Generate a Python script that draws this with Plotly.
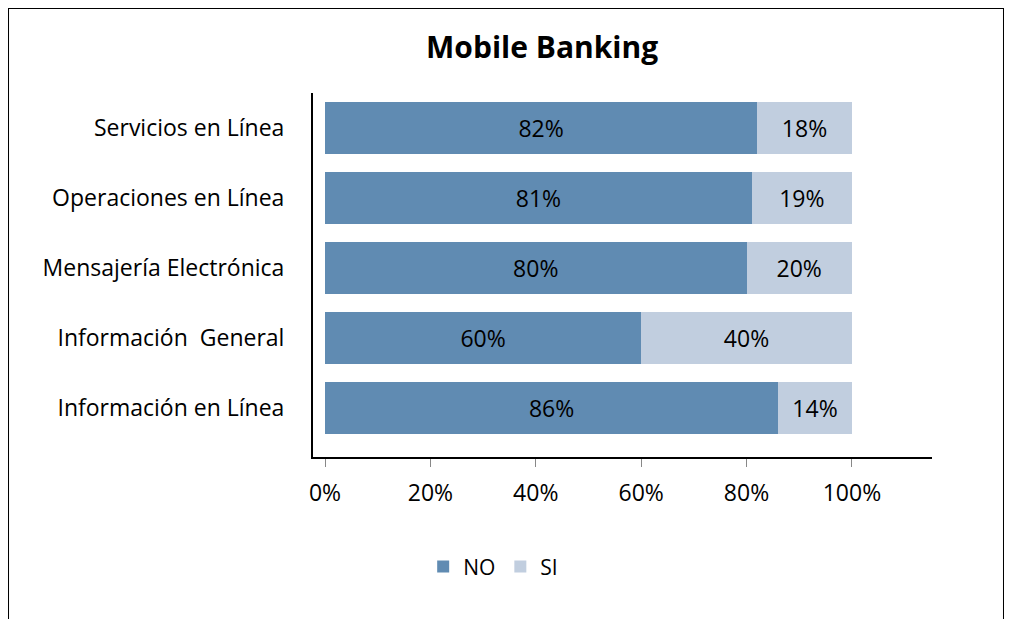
import plotly.graph_objects as go

categories = ["Información en Línea", "Información\u00a0 General", "Mensajería Electrónica",
              "Operaciones en Línea", "Servicios en Línea"]
no_values = [86, 60, 80, 81, 82]
si_values = [14, 40, 20, 19, 18]
x_ticks = [0, 20, 40, 60, 80, 100]
x_labels = ["0%", "20%", "40%", "60%", "80%", "100%"]

NO_COLOR = "#608BB2"
SI_COLOR = "#C1CEDF"
FONT = "Open Sans"

fig = go.Figure()
fig.add_trace(go.Bar(
    y=categories, x=no_values, orientation="h", name="NO",
    marker=dict(color=NO_COLOR, line=dict(width=0)),
    text=[f"{v}%" for v in no_values], textposition="inside",
    insidetextanchor="middle", textfont=dict(color="black", size=23, family=FONT),
    hoverinfo="skip",
))
fig.add_trace(go.Bar(
    y=categories, x=si_values, orientation="h", name="SI",
    marker=dict(color=SI_COLOR, line=dict(width=0)),
    text=[f"{v}%" for v in si_values], textposition="inside",
    insidetextanchor="middle", textfont=dict(color="black", size=23, family=FONT),
    hoverinfo="skip",
))

fig.update_layout(
    width=1004, height=611,
    barmode="stack", bargap=0.27,
    plot_bgcolor="white", paper_bgcolor="white",
    margin=dict(l=305, r=80, t=85, b=162),
    font=dict(family=FONT, size=23, color="black"),
    uniformtext=dict(mode="show", minsize=23),
    title=dict(text="<b>Mobile Banking</b>", x=0.532, xanchor="center", y=0.936, yanchor="middle",
               font=dict(size=30, family=FONT, color="black")),
    showlegend=True,
    legend=dict(orientation="h", x=0.178, xanchor="left", y=-0.302, yanchor="middle",
                font=dict(size=21), traceorder="normal", itemwidth=30),
    xaxis=dict(range=[-2.28, 115.2], tickvals=x_ticks, ticktext=x_labels,
               showgrid=False, zeroline=False, showline=True, linecolor="black", linewidth=2,
               ticks="outside", ticklen=8, tickcolor="#888888", tickwidth=1,
               tickfont=dict(size=23), ticklabelstandoff=6),
    yaxis=dict(range=[-0.7, 4.5], showgrid=False, zeroline=False, showline=True,
               linecolor="black", linewidth=2, ticks="", tickfont=dict(size=23),
               ticklabelstandoff=22),
    shapes=[dict(type="rect", xref="paper", yref="paper", x0=-0.4927, x1=1.1163,
                 y0=-0.46, y1=1.2335, line=dict(color="black", width=2), layer="below")],
)

fig.write_html("out.html")
